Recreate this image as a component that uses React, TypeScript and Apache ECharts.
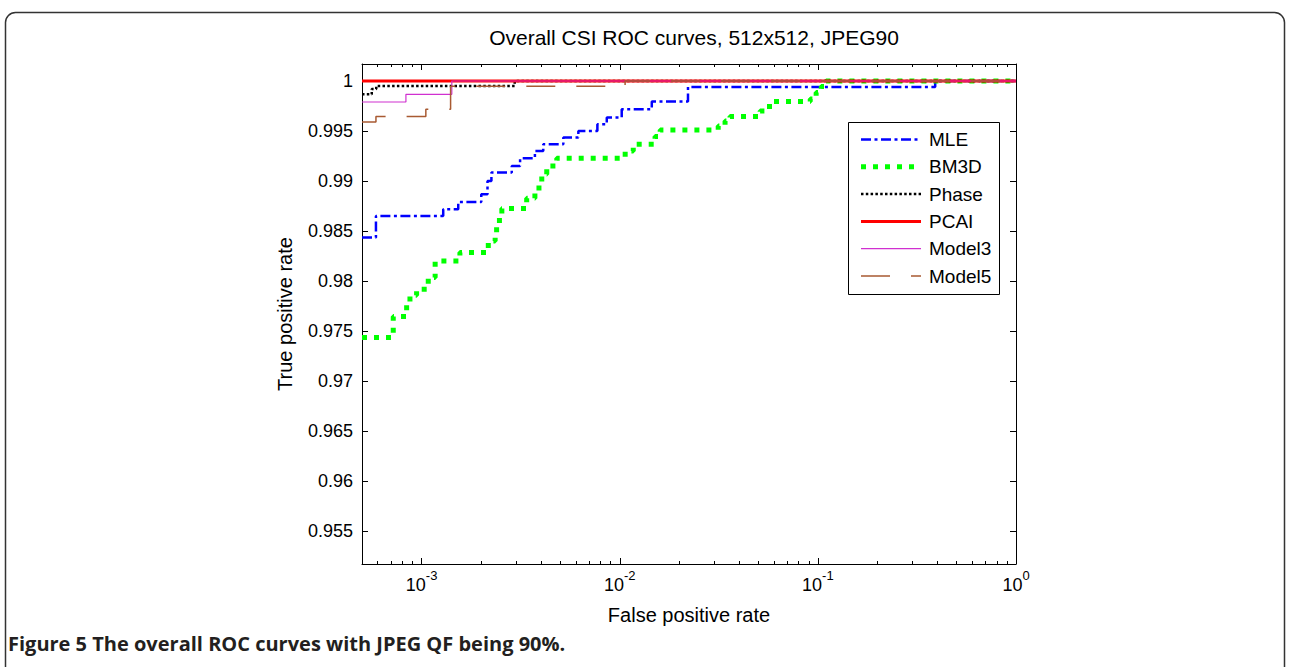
import React, { useEffect, useRef } from 'react';
import * as echarts from 'echarts';

const FONT = '"Liberation Sans", Arial, Helvetica, sans-serif';

const seriesNames = ['MLE', 'BM3D', 'Phase', 'PCAI', 'Model3', 'Model5'];

// False positive rate (x) / true positive rate (y) at each ROC step
const mleFpr = [5e-4, 5.88e-4, 1.285e-3, 1.53e-3, 2.0e-3, 2.15e-3, 2.25e-3, 2.85e-3, 3.14e-3, 3.73e-3, 4.11e-3, 5.19e-3, 6.18e-3, 7.71e-3, 8.6e-3, 1.023e-2, 1.451e-2, 2.21e-2, 0.391, 1];
const mleTpr = [0.98434, 0.9865, 0.98717, 0.9879, 0.98867, 0.99, 0.99084, 0.9915, 0.99227, 0.993, 0.99367, 0.99434, 0.995, 0.99567, 0.99634, 0.99717, 0.99794, 0.9994, 1, 1];

const bm3dFpr = [5e-4, 7.19e-4, 8.4e-4, 8.73e-4, 9.43e-4, 1.08e-3, 1.17e-3, 1.56e-3, 2.17e-3, 2.35e-3, 2.39e-3, 2.47e-3, 2.54e-3, 3.39e-3, 3.73e-3, 3.91e-3, 4.04e-3, 4.28e-3, 4.81e-3, 1.065e-2, 1.17e-2, 1.507e-2, 1.6e-2, 3.14e-2, 3.4e-2, 3.6e-2, 5.11e-2, 5.53e-2, 5.88e-2, 9.15e-2, 9.8e-2, 0.104, 0.11, 1];
const bm3dTpr = [0.97434, 0.97644, 0.97767, 0.97857, 0.97917, 0.98034, 0.982, 0.98284, 0.984, 0.98467, 0.9855, 0.98634, 0.98724, 0.98827, 0.98884, 0.98967, 0.99067, 0.9915, 0.99227, 0.993, 0.99367, 0.99444, 0.9951, 0.9955, 0.996, 0.99644, 0.997, 0.99744, 0.99794, 0.9982, 0.99884, 0.99944, 1, 1];

const phaseFpr = [5e-4, 5.6e-4, 5.9e-4, 2.95e-3, 1];
const phaseTpr = [0.99867, 0.9992, 0.9995, 1, 1];

const pcaiFpr = [5e-4, 1];
const pcaiTpr = [1, 1];

const model3Fpr = [5e-4, 8.33e-4, 1.42e-3, 1];
const model3Tpr = [0.9979, 0.99867, 1, 1];

const model5Fpr = [5e-4, 5.88e-4, 1.05e-3, 1.4e-3, 1.064e-2, 1];
const model5Tpr = [0.9959, 0.99644, 0.99717, 0.99947, 1, 1];

const xMajorTicks = [1e-3, 1e-2, 1e-1, 1];
const xMinorTicks = [6e-4, 7e-4, 8e-4, 9e-4, 2e-3, 3e-3, 4e-3, 5e-3, 6e-3, 7e-3, 8e-3, 9e-3, 2e-2, 3e-2, 4e-2, 5e-2, 6e-2, 7e-2, 8e-2, 9e-2, 0.2, 0.3, 0.4, 0.5, 0.6, 0.7, 0.8, 0.9];
const yTicks = [0.955, 0.96, 0.965, 0.97, 0.975, 0.98, 0.985, 0.99, 0.995, 1];

const X_MIN = 5e-4;
const X_MAX = 1;
const Y_MIN = 0.9517;
const Y_MAX = 1.0017;

const styles = [
  { color: '#0000ff', width: 2.5, type: [10, 3.5, 3, 3.5] },
  { color: '#00ff00', width: 5, type: [5, 7] },
  { color: '#000000', width: 2.5, type: [2.5, 2.3] },
  { color: '#ff0000', width: 3, type: 'solid' },
  { color: '#d030d0', width: 1.2, type: 'solid' },
  { color: '#a85a32', width: 1.5, type: [29, 21] },
];

const pairs = (xs: number[], ys: number[]) => xs.map((x, i) => [x, ys[i]]);

export default function App() {
  const ref = useRef<HTMLDivElement>(null);
  useEffect(() => {
    document.body.style.margin = '0';
    const chart = echarts.init(ref.current!, null, { renderer: 'svg' });
    const datas = [
      pairs(mleFpr, mleTpr),
      pairs(bm3dFpr, bm3dTpr),
      pairs(phaseFpr, phaseTpr),
      pairs(pcaiFpr, pcaiTpr),
      pairs(model3Fpr, model3Tpr),
      pairs(model5Fpr, model5Tpr),
    ];
    const grid = { left: 362, top: 64, width: 654, height: 500 };
    const baseX = {
      type: 'log' as const,
      logBase: 10,
      min: X_MIN,
      max: X_MAX,
      gridIndex: 0,
      splitLine: { show: false },
      axisLine: { show: false, onZero: false },
      axisLabel: { show: false },
      axisTick: { show: false },
    };
    const baseY = {
      type: 'value' as const,
      min: Y_MIN,
      max: Y_MAX,
      gridIndex: 0,
      splitLine: { show: false },
      axisLine: { show: false, onZero: false },
      axisLabel: { show: false },
      axisTick: { show: false },
    };
    const lineStyleAxis = { color: '#000', width: 1 };
    const legendItems: any[] = [];
    const lx0 = 861, lx1 = 921, ly0 = 139.5, ldy = 27.3;
    seriesNames.forEach((name, i) => {
      const s = styles[i];
      const y = ly0 + i * ldy;
      legendItems.push({
        type: 'line',
        shape: { x1: lx0, y1: y, x2: lx1, y2: y },
        style: {
          stroke: s.color,
          lineWidth: s.width,
          lineDash: Array.isArray(s.type) ? s.type : null,
        },
        z: 101,
      });
      legendItems.push({
        type: 'text',
        x: 929,
        y,
        style: {
          text: name,
          fill: '#000',
          font: `19px ${FONT}`,
          verticalAlign: 'middle',
        },
        z: 101,
      });
    });
    chart.setOption({
      animation: false,
      backgroundColor: '#fff',
      title: {
        text: 'Overall CSI ROC curves, 512x512, JPEG90',
        left: 689,
        top: 22,
        textAlign: 'center',
        textStyle: { fontFamily: FONT, fontSize: 21, fontWeight: 'normal', color: '#000' },
      },
      grid,
      xAxis: [
        {
          ...baseX,
          position: 'bottom',
          name: 'False positive rate',
          nameLocation: 'middle',
          nameGap: 41,
          nameTextStyle: { fontFamily: FONT, fontSize: 20, color: '#000' },
          axisLine: { show: true, onZero: false, lineStyle: lineStyleAxis },
          axisTick: { show: true, inside: true, length: 6, customValues: xMajorTicks, lineStyle: lineStyleAxis },
          axisLabel: {
            show: true,
            customValues: xMajorTicks,
            margin: 5,
            formatter: (v: number) => `{b|10}{s|${Math.round(Math.log10(v))}}`,
            rich: {
              b: { fontFamily: FONT, fontSize: 18, color: '#000', lineHeight: 25, verticalAlign: 'bottom' },
              s: { fontFamily: FONT, fontSize: 13, color: '#000', lineHeight: 11, verticalAlign: 'top' },
            },
          },
        },
        {
          ...baseX,
          position: 'bottom',
          axisTick: { show: true, inside: true, length: 3, customValues: xMinorTicks, lineStyle: lineStyleAxis },
        },
        {
          ...baseX,
          position: 'top',
          axisLine: { show: true, onZero: false, lineStyle: lineStyleAxis },
          axisTick: { show: true, inside: true, length: 6, customValues: xMajorTicks, lineStyle: lineStyleAxis },
        },
        {
          ...baseX,
          position: 'top',
          axisTick: { show: true, inside: true, length: 3, customValues: xMinorTicks, lineStyle: lineStyleAxis },
        },
      ],
      yAxis: [
        {
          ...baseY,
          position: 'left',
          name: 'True positive rate',
          nameLocation: 'middle',
          nameGap: 67,
          nameTextStyle: { fontFamily: FONT, fontSize: 20, color: '#000' },
          axisLine: { show: true, onZero: false, lineStyle: lineStyleAxis },
          axisTick: { show: true, inside: true, length: 6, customValues: yTicks, lineStyle: lineStyleAxis },
          axisLabel: {
            show: true,
            customValues: yTicks,
            margin: 9,
            fontFamily: FONT,
            fontSize: 18,
            color: '#000',
            formatter: (v: number) => String(+Number(v).toFixed(3)),
          },
        },
        {
          ...baseY,
          position: 'right',
          axisLine: { show: true, onZero: false, lineStyle: lineStyleAxis },
          axisTick: { show: true, inside: true, length: 6, customValues: yTicks, lineStyle: lineStyleAxis },
        },
      ],
      series: seriesNames.map((name, i) => ({
        name,
        type: 'line',
        xAxisIndex: 0,
        yAxisIndex: 0,
        data: datas[i],
        step: 'end',
        showSymbol: false,
        symbol: 'none',
        clip: true,
        lineStyle: { color: styles[i].color, width: styles[i].width, type: styles[i].type as any, cap: 'butt' },
        itemStyle: { color: styles[i].color },
        emphasis: { disabled: true },
      })),
      graphic: [
        {
          type: 'rect',
          shape: { x: 5.5, y: 12.5, width: 1279, height: 720, r: 10 },
          style: { fill: 'none', stroke: '#333', lineWidth: 1.5 },
          z: 0,
          silent: true,
        },
        {
          type: 'rect',
          shape: { x: 848.5, y: 122.5, width: 151, height: 172 },
          style: { fill: '#fff', stroke: '#000', lineWidth: 1 },
          z: 100,
        },
        ...legendItems,
        {
          type: 'text',
          x: 8,
          y: 643,
          style: {
            text: 'Figure 5 The overall ROC curves with JPEG QF being 90%.',
            fill: '#231f20',
            font: `bold 20px "Open Sans", "Noto Sans", sans-serif`,
            verticalAlign: 'middle',
          },
        },
      ],
    });
    return () => chart.dispose();
  }, []);
  return <div ref={ref} style={{ width: 1290, height: 667 }} />;
}
